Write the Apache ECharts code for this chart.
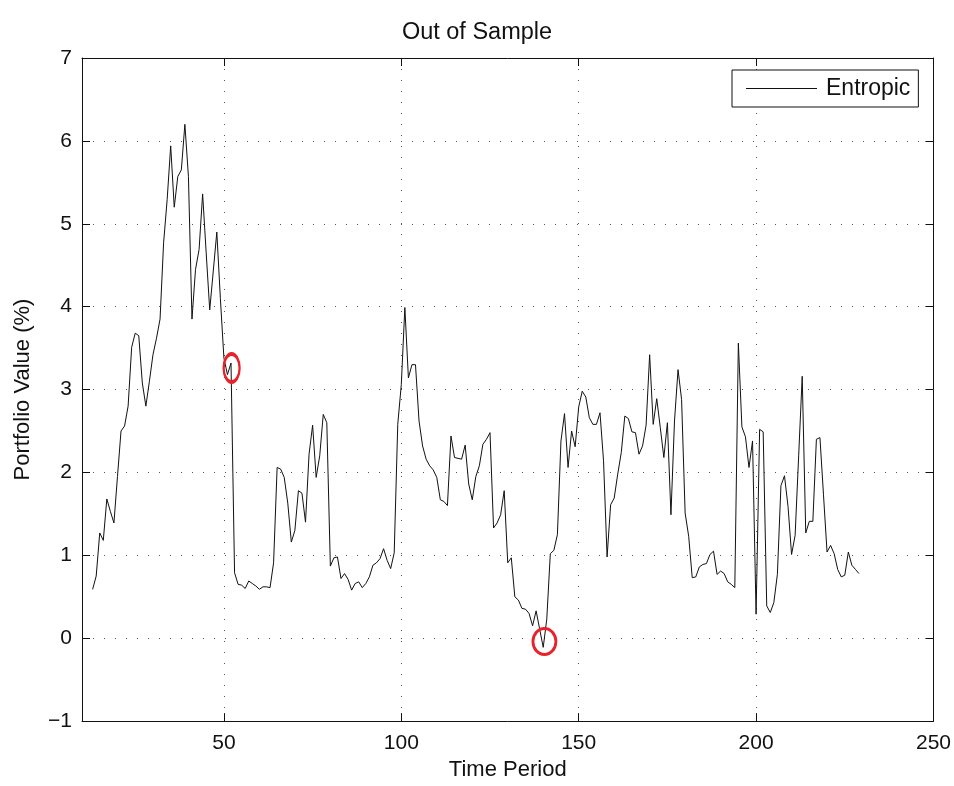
<!DOCTYPE html>
<html>
<head>
<meta charset="utf-8">
<title>Out of Sample</title>
<script src="https://cdn.jsdelivr.net/npm/echarts@6/dist/echarts.min.js"></script>
<style>
  html, body { margin: 0; padding: 0; background: #fff; }
  #chart { width: 954px; height: 786px; }
</style>
</head>
<body>
<div id="chart"></div>
<script>
// Time periods covered by the out-of-sample run
const startPeriod = 13;

// Portfolio value (%) for each period, starting at startPeriod
const entropicValues = [
  0.59, 0.75, 1.27, 1.18, 1.68, 1.53, 1.39, 1.95, 2.50, 2.56,
  2.80, 3.51, 3.68, 3.65, 3.08, 2.80, 3.10, 3.42, 3.62, 3.85,
  4.77, 5.29, 5.94, 5.20, 5.57, 5.65, 6.20, 5.57, 3.85, 4.45,
  4.69, 5.36, 4.65, 3.96, 4.43, 4.90, 4.10, 3.38, 3.18, 3.32,
  0.79, 0.65, 0.64, 0.60, 0.69, 0.66, 0.63, 0.59, 0.62, 0.62,
  0.61, 0.91, 2.06, 2.04, 1.94, 1.63, 1.16, 1.30, 1.78, 1.75,
  1.40, 2.22, 2.57, 1.94, 2.20, 2.70, 2.60, 0.87, 0.97, 0.98,
  0.72, 0.78, 0.71, 0.58, 0.66, 0.68, 0.61, 0.66, 0.74, 0.88,
  0.91, 0.96, 1.08, 0.94, 0.84, 1.03, 2.58, 3.06, 3.99, 3.14,
  3.30, 3.30, 2.62, 2.32, 2.16, 2.08, 2.03, 1.94, 1.67, 1.65,
  1.60, 2.44, 2.18, 2.17, 2.16, 2.33, 1.86, 1.67, 1.95, 2.08,
  2.34, 2.40, 2.48, 1.33, 1.39, 1.49, 1.78, 0.91, 0.97, 0.50,
  0.46, 0.36, 0.35, 0.30, 0.15, 0.33, 0.11, -0.11, 0.23, 1.02,
  1.06, 1.25, 2.38, 2.71, 2.06, 2.50, 2.31, 2.79, 2.98, 2.91,
  2.66, 2.58, 2.58, 2.72, 2.14, 0.98, 1.61, 1.69, 1.98, 2.24,
  2.68, 2.65, 2.49, 2.48, 2.22, 2.32, 2.57, 3.42, 2.58, 2.89,
  2.54, 2.18, 2.60, 1.49, 2.62, 3.24, 2.88, 1.51, 1.23, 0.73,
  0.74, 0.86, 0.89, 0.90, 1.01, 1.05, 0.77, 0.81, 0.78, 0.68,
  0.65, 0.61, 3.56, 2.55, 2.43, 2.06, 2.38, 0.29, 2.52, 2.49,
  0.39, 0.31, 0.43, 0.77, 1.84, 1.96, 1.59, 1.01, 1.24, 2.20,
  3.16, 1.27, 1.41, 1.41, 2.40, 2.42, 1.73, 1.04, 1.12, 1.02,
  0.83, 0.74, 0.76, 1.04, 0.88, 0.83, 0.78
];

// Axis ranges
const xRange = [10, 250];
const yRange = [-1, 7];

// Highlighted moments (period, value)
const highlightPoints = [
  [52.17, 3.26],
  [140.34, -0.04]
];

const seriesData = entropicValues.map((v, i) => [startPeriod + i, v]);

const FONT = 'Liberation Sans, Arial, Helvetica, sans-serif';
const INK = '#111';

const dotted = { color: '#555', width: 1, type: [1, 10] };

function xAxisBase(pos, showLabels) {
  return {
    type: 'value',
    position: pos,
    min: xRange[0],
    max: xRange[1],
    minInterval: 50,
    maxInterval: 50,
    axisLine: { show: true, onZero: false, lineStyle: { color: INK, width: 1 } },
    axisTick: { show: true, inside: true, length: 8, lineStyle: { color: INK } },
    axisLabel: {
      show: showLabels, showMinLabel: false, margin: 12,
      color: INK, fontFamily: FONT, fontSize: 21
    },
    splitLine: { show: showLabels, lineStyle: dotted }
  };
}

function yAxisBase(pos, showLabels) {
  return {
    type: 'value',
    position: pos,
    min: yRange[0],
    max: yRange[1],
    interval: 1,
    axisLine: { show: true, onZero: false, lineStyle: { color: INK, width: 1 } },
    axisTick: { show: true, inside: true, length: 8, lineStyle: { color: INK } },
    axisLabel: {
      show: showLabels, margin: 10,
      color: INK, fontFamily: FONT, fontSize: 21,
      formatter: v => (v < 0 ? '\u2212' + Math.abs(v) : String(v))
    },
    splitLine: { show: showLabels, lineStyle: dotted }
  };
}

const chart = echarts.init(document.getElementById('chart'), null, { renderer: 'canvas' });

const xMain = Object.assign(xAxisBase('bottom', true), {
  name: 'Time Period',
  nameLocation: 'middle',
  nameGap: 35,
  nameTextStyle: { color: INK, fontFamily: FONT, fontSize: 22 }
});
const yMain = Object.assign(yAxisBase('left', true), {
  name: 'Portfolio Value (%)',
  nameLocation: 'middle',
  nameGap: 48,
  nameTextStyle: { color: INK, fontFamily: FONT, fontSize: 22 }
});

chart.setOption({
  animation: false,
  backgroundColor: '#fff',
  title: {
    text: 'Out of Sample',
    left: 'center',
    top: 16,
    textStyle: { color: INK, fontFamily: FONT, fontSize: 23.5, fontWeight: 'normal' }
  },
  legend: {
    data: ['Entropic'],
    left: 732,
    top: 70,
    orient: 'vertical',
    backgroundColor: '#fff',
    borderColor: INK,
    borderWidth: 1,
    borderRadius: 0,
    padding: [7, 8, 7, 14],
    icon: 'rect',
    itemWidth: 71,
    itemHeight: 1,
    itemStyle: { color: INK },
    textStyle: { color: INK, fontFamily: FONT, fontSize: 23, lineHeight: 23, padding: [0, 0, 0, 4] }
  },
  grid: { left: 82, right: 20, top: 58, bottom: 59, containLabel: false },
  xAxis: [xMain, xAxisBase('top', false)],
  yAxis: [yMain, yAxisBase('right', false)],
  series: [{
    name: 'Entropic',
    type: 'line',
    xAxisIndex: 0,
    yAxisIndex: 0,
    data: seriesData,
    symbol: 'none',
    lineStyle: { color: INK, width: 1 },
    itemStyle: { color: INK },
    markPoint: {
      symbol: 'circle',
      silent: true,
      label: { show: false },
      itemStyle: { color: 'rgba(0,0,0,0)', borderColor: '#e8222a', borderWidth: 3 },
      data: [
        { coord: highlightPoints[0], symbolSize: [16, 28] },
        { coord: highlightPoints[1], symbolSize: [23, 26] }
      ]
    }
  }]
});
</script>
</body>
</html>
